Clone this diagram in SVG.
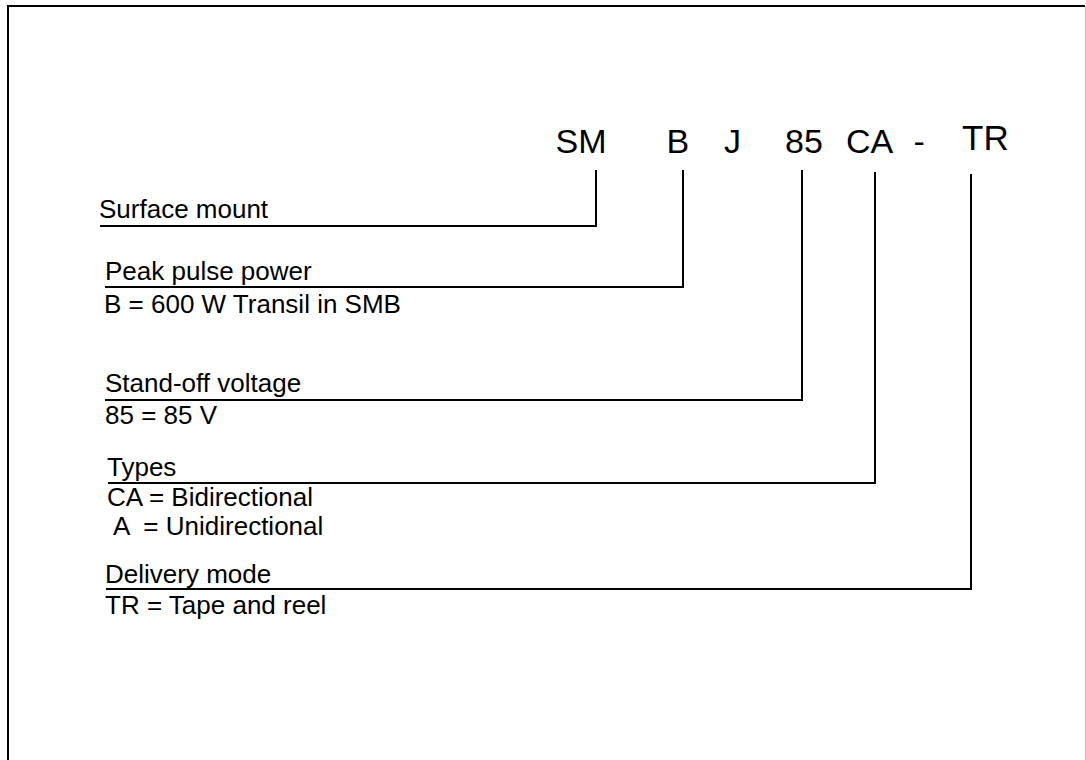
<svg xmlns="http://www.w3.org/2000/svg" width="1086" height="760" viewBox="0 0 1086 760">
<style>
text{font-family:"Liberation Sans",Arial,sans-serif;fill:#000;white-space:pre}
.code{font-size:34px}
.lbl{font-size:26px}
.ln{fill:none;stroke:#000;stroke-width:2}
</style>
<rect x="0" y="0" width="1086" height="760" fill="#fff"/>
<g id="frame">
<path d="M8,760 V6 H1085" class="ln"/>
<line x1="1085.5" y1="6" x2="1085.5" y2="760" stroke="#bbb" stroke-width="1"/>
</g>
<g id="code">
<text class="code" x="555.5" y="153">SM</text>
<text class="code" x="666.5" y="153">B</text>
<text class="code" x="724" y="153">J</text>
<text class="code" x="785" y="153">85</text>
<text class="code" x="846" y="153">CA</text>
<text class="code" x="913.5" y="153">-</text>
<text class="code" x="962" y="150" style="font-size:35px">TR</text>
</g>
<g id="connectors">
<path class="ln" d="M100,226 H596 V170"/>
<path class="ln" d="M105,287 H683 V170"/>
<path class="ln" d="M105,400 H802 V170"/>
<path class="ln" d="M108,483 H875 V172"/>
<path class="ln" d="M106,589 H971 V174"/>
</g>
<g id="surface-mount">
<text class="lbl" x="99" y="218">Surface mount</text>
</g>
<g id="peak-pulse-power">
<text class="lbl" x="105" y="280">Peak pulse power</text>
<text class="lbl" x="104" y="313">B = 600 W Transil in SMB</text>
</g>
<g id="stand-off-voltage">
<text class="lbl" x="105" y="392">Stand-off voltage</text>
<text class="lbl" x="105" y="424">85 = 85 V</text>
</g>
<g id="types">
<text class="lbl" x="107" y="476">Types</text>
<text class="lbl" x="107" y="506">CA = Bidirectional</text>
<text class="lbl" x="113" y="535">A  = Unidirectional</text>
</g>
<g id="delivery-mode">
<text class="lbl" x="105" y="583">Delivery mode</text>
<text class="lbl" x="105" y="614">TR = Tape and reel</text>
</g>
</svg>
